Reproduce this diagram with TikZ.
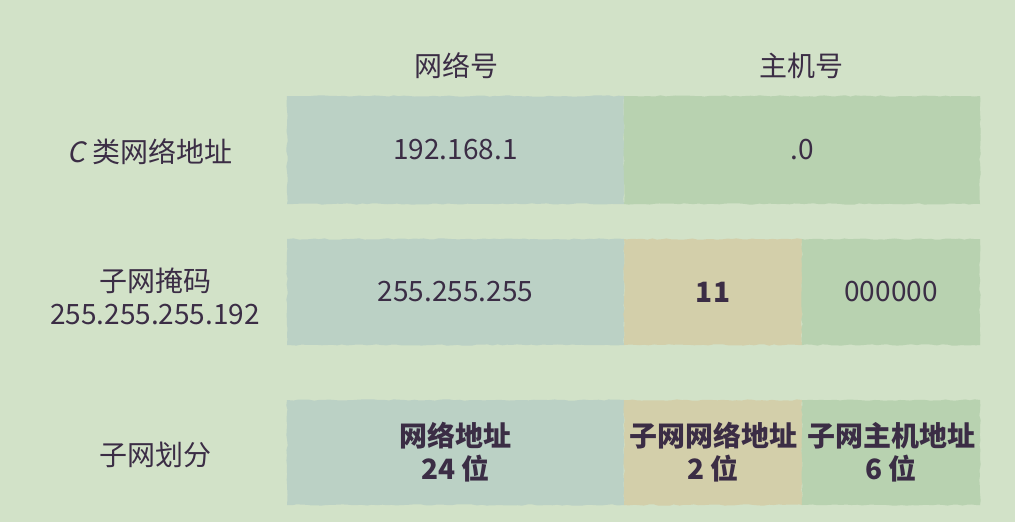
\documentclass[tikz,border=0pt]{standalone}
\usepackage{fontspec}
\setmainfont{Noto Sans CJK SC}
\newfontfamily\slantfont[FakeSlant=0.2]{Noto Sans CJK SC}
\usetikzlibrary{decorations.pathmorphing}
\definecolor{bgc}{HTML}{D2E2C8}
\definecolor{netc}{HTML}{BBD1C5}
\definecolor{hostc}{HTML}{B8D2B0}
\definecolor{subc}{HTML}{D3CFAA}
\definecolor{txt}{HTML}{3B2D45}
\tikzset{
  cell/.style={fill=#1, inner sep=0pt, minimum height=106pt, align=center,
    text=txt, font=\fontsize{28}{33}\selectfont,
    decorate, decoration={random steps, segment length=5pt, amplitude=0.7pt}},
  wnet/.style={minimum width=337pt},
  wsub/.style={minimum width=178pt},
  whost/.style={minimum width=356pt},
  lbl/.style={text=txt, align=center, font=\fontsize{28}{33}\selectfont, inner sep=0pt},
}
\begin{document}
\begin{tikzpicture}[x=1pt, y=-1pt]
\fill[bgc] (0,0) rectangle (1015,522);
\useasboundingbox (0,0) rectangle (1015,522);
% headers
\node[lbl] (hnet) at (456,66) {网络号};
\node[lbl] (hhost) at (801,66) {主机号};
% row labels
\node[lbl] (l1) at (150,152) {{\slantfont C} 类网络地址};
\node[lbl] (l2) at (155,296) {子网掩码\\255.255.255.192};
\node[lbl] (l3) at (155,455) {子网划分};
% row 1
\node[cell=netc, wnet, minimum height=108pt] (r1a) at (455.5,150) {192.168.1};
\node[cell=hostc, whost, minimum height=108pt] (r1b) at (802,150) {.0};
% row 2
\node[cell=netc, wnet] (r2a) at (455.5,292) {255.255.255};
\node[cell=subc, wsub] (r2b) at (713,292) {\textbf{11}};
\node[cell=hostc, wsub] (r2c) at (891,292) {000000};
% row 3
\node[cell=netc, wnet, minimum height=105pt] (r3a) at (455.5,452.5) {\textbf{网络地址}\\\textbf{24 位}};
\node[cell=subc, wsub, minimum height=105pt] (r3b) at (713,452.5) {\textbf{子网网络地址}\\\textbf{2 位}};
\node[cell=hostc, wsub, minimum height=105pt] (r3c) at (891,452.5) {\textbf{子网主机地址}\\\textbf{6 位}};
\end{tikzpicture}
\end{document}
